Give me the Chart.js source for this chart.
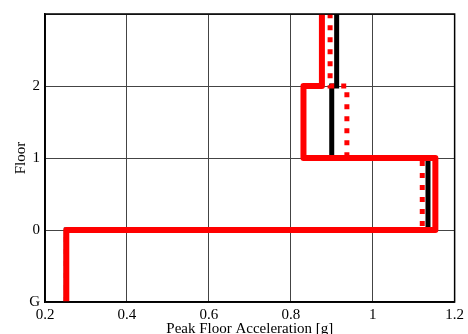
<!DOCTYPE html>
<html>
<head>
<meta charset="utf-8">
<script src="https://cdn.jsdelivr.net/npm/chart.js@4"></script>
<style>
  body { margin: 0; background: #fff; }
</style>
</head>
<body>
<canvas id="myChart" width="468" height="334"></canvas>
<script>
// floor levels: G=-1, 0, 1, 2, top=3
const floorLevels = [-1, 0, 1, 2, 3];
const floorLabels = { '-1': 'G', '0': '0', '1': '1', '2': '2' };

// peak floor acceleration per storey (G-0, 0-1, 1-2, 2-top)
const pfaRedSolid = [0.252, 1.153, 0.831, 0.876];
const pfaBlack = [0.252, 1.135, 0.900, 0.912];
const pfaRedDotted = [0.252, 1.121, 0.937, 0.896];

// build a step profile from storey values
function stepProfile(vals) {
  const pts = [];
  for (let i = 0; i < vals.length; i++) {
    pts.push({ x: vals[i], y: floorLevels[i] });
    pts.push({ x: vals[i], y: floorLevels[i + 1] });
  }
  return pts;
}

const ctx = document.getElementById("myChart").getContext("2d");

const myChart = new Chart(ctx, {
  type: 'scatter',
  data: {
    datasets: [
      {
        data: stepProfile(pfaRedSolid),
        showLine: true,
        borderColor: '#ff0000',
        borderWidth: 6,
        borderJoinStyle: 'round',
        pointRadius: 0,
        order: 0
      },
      {
        data: stepProfile(pfaRedDotted),
        showLine: true,
        borderColor: '#ff0000',
        borderWidth: 5,
        borderDash: [5, 7],
        borderCapStyle: 'butt',
        pointRadius: 0,
        order: 1
      },
      {
        data: stepProfile(pfaBlack),
        showLine: true,
        borderColor: '#000000',
        borderWidth: 5,
        pointRadius: 0,
        order: 2
      }
    ]
  },
  options: {
    responsive: false,
    animation: false,
    devicePixelRatio: 1,
    layout: { padding: { left: 12, top: 14, right: 12, bottom: 0 } },
    plugins: {
      legend: { display: false },
      tooltip: { enabled: false }
    },
    scales: {
      x: {
        type: 'linear',
        position: 'bottom',
        min: 0.2,
        max: 1.2,
        afterFit: (s) => { s.height = 32; },
        ticks: {
          stepSize: 0.2,
          maxRotation: 0,
          padding: 4,
          color: '#000',
          font: { family: 'Liberation Serif', size: 15 },
          callback: (v) => String(Math.round(v * 10) / 10)
        },
        grid: { color: '#444', lineWidth: 1, drawTicks: false },
        border: { color: '#000', width: 1.5 },
        title: {
          display: true,
          text: 'Peak Floor Acceleration [g]',
          color: '#000',
          padding: { top: 0, bottom: -4 },
          font: { family: 'Liberation Serif', size: 15 }
        }
      },
      y: {
        type: 'linear',
        min: -1,
        max: 3,
        afterFit: (s) => { s.width = 33; },
        ticks: {
          stepSize: 1,
          padding: 5,
          color: '#000',
          font: { family: 'Liberation Serif', size: 15 },
          callback: (v) => floorLabels[String(v)] || ''
        },
        grid: { color: '#444', lineWidth: 1, drawTicks: false },
        border: { color: '#000', width: 1.5 },
        title: {
          display: true,
          text: 'Floor',
          color: '#000',
          padding: 0,
          font: { family: 'Liberation Serif', size: 15 }
        }
      }
    }
  },
  plugins: [{
    id: 'frame',
    afterDraw(chart) {
      const a = chart.chartArea;
      const c = chart.ctx;
      c.save();
      c.strokeStyle = '#000';
      c.lineWidth = 1.5;
      c.strokeRect(a.left, a.top, a.right - a.left, a.bottom - a.top);
      c.restore();
    }
  }]
});
</script>
</body>
</html>
